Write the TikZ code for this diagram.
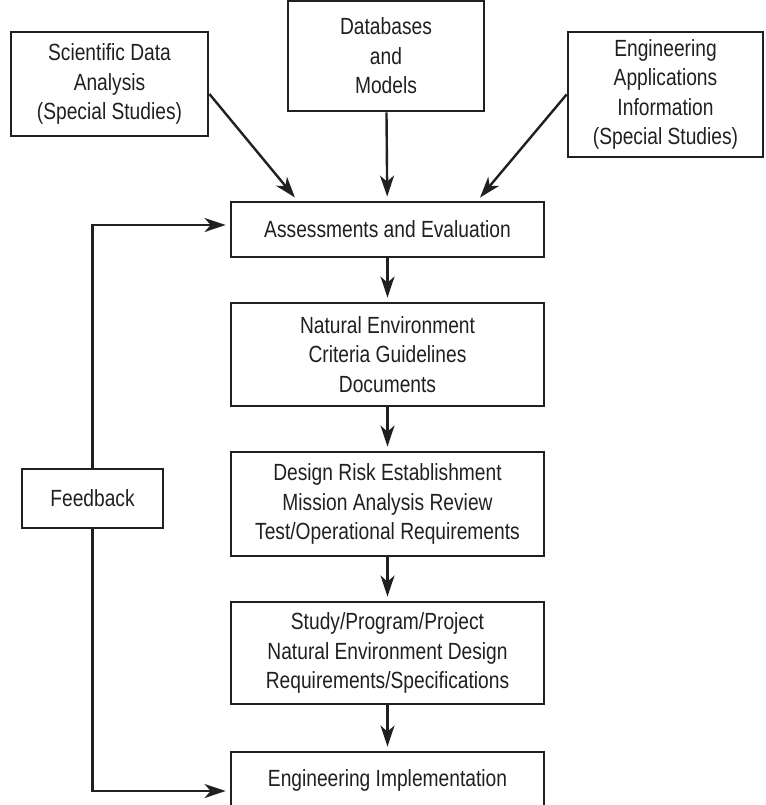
\documentclass[tikz,border=0pt]{standalone}
\usepackage{fontspec}
\setmainfont{Liberation Sans}[FakeStretch=0.82]
\usetikzlibrary{arrows.meta}
\definecolor{ink}{RGB}{35,31,32}
\begin{document}
\begin{tikzpicture}[x=1bp,y=-1bp,
        box/.style={draw=ink,line width=2.8bp,align=center,inner sep=0pt,text=ink,
            font=\fontsize{23.5}{29.5}\selectfont},
        arr/.style={draw=ink,line width=2.4bp,-{Stealth[length=21bp,width=14bp,inset=6bp]},shorten >=4bp}]
            \useasboundingbox (0,0) rectangle (766,805);
            % sources
            \node[box,minimum width=197bp,minimum height=104bp] (sda) at (109.5,84) {Scientific Data\\Analysis\\(Special Studies)};
            \node[box,minimum width=196bp,minimum height=110bp] (db) at (386,56) {Databases\\and\\Models};
            \node[box,minimum width=195bp,minimum height=125bp] (eng) at (665.5,94.5) {Engineering\\Applications\\Information\\(Special Studies)};
            % main chain
            \node[box,minimum width=313bp,minimum height=55bp] (assess) at (387.5,229.5) {Assessments and Evaluation};
            \node[box,minimum width=313bp,minimum height=103bp] (ne) at (387.5,354.5) {Natural Environment\\Criteria Guidelines\\Documents};
            \node[box,minimum width=313bp,minimum height=104bp] (risk) at (387.5,504) {Design Risk Establishment\\Mission Analysis Review\\Test/Operational Requirements};
            \node[box,minimum width=313bp,minimum height=102bp] (study) at (387.5,653) {Study/Program/Project\\Natural Environment Design\\Requirements/Specifications};
            \node[box,minimum width=313bp,minimum height=56bp] (impl) at (387.5,780) {Engineering Implementation};
            \node[box,minimum width=141bp,minimum height=59bp] (fb) at (92.5,498.5) {Feedback};
            % connectors
            \draw[arr] ([shift={(0,10)}]sda.east) -- ([shift={(-90,0)}]assess.north);
            \draw[arr] (db) -- (assess);
            \draw[arr] (eng.west) -- ([shift={(90,0)}]assess.north);
            \foreach \a/\b in {assess/ne,ne/risk,risk/study,study/impl}{
                \draw[arr] (\a) -- (\b);
            }
            \draw[arr] (fb.north) |- ([shift={(0,-4.5)}]assess.west);
            \draw[arr] (fb.south) |- ([shift={(0,11)}]impl.west);
        \end{tikzpicture}
\end{document}
